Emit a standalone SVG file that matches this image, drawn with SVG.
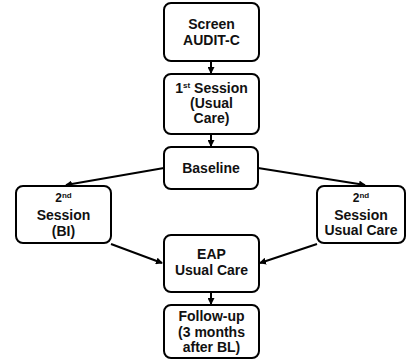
<svg xmlns="http://www.w3.org/2000/svg" width="407" height="361" viewBox="0 0 407 361">
<style>
.box{fill:#fff;stroke:#000;stroke-width:2;}
text{font-family:"Liberation Sans",Arial,sans-serif;font-weight:bold;font-size:14px;fill:#111;text-anchor:middle;}
.sm{font-size:12px;}
.sup{font-size:8px;}
.conn{stroke:#000;stroke-width:2;fill:none;marker-end:url(#ah);}
</style>
<defs>
<marker id="ah" markerWidth="7" markerHeight="7" refX="6" refY="3.5" orient="auto" markerUnits="userSpaceOnUse">
<path d="M0,0 L7,3.5 L0,7 Z" fill="#000"/>
</marker>
</defs>
<g id="connectors">
<line class="conn" x1="211" y1="62" x2="211" y2="73"/>
<line class="conn" x1="211" y1="135" x2="211" y2="146"/>
<line class="conn" x1="164" y1="168" x2="66" y2="185"/>
<line class="conn" x1="258" y1="168" x2="365" y2="185"/>
<line class="conn" x1="111" y1="244" x2="162" y2="263"/>
<line class="conn" x1="317" y1="244" x2="260" y2="263"/>
<line class="conn" x1="211" y1="293" x2="211" y2="304"/>
</g>
<g id="screen">
<rect class="box" x="164" y="3" width="95" height="58" rx="7"/>
<text x="211.5" y="29">Screen</text>
<text x="211.5" y="45">AUDIT-C</text>
</g>
<g id="session1">
<rect class="box" x="164" y="74" width="95" height="60" rx="7"/>
<text x="211.5" y="93">1<tspan class="sup" dy="-5">st</tspan><tspan dy="5"> Session</tspan></text>
<text x="211.5" y="108">(Usual</text>
<text x="211.5" y="123">Care)</text>
</g>
<g id="baseline">
<rect class="box" x="164" y="147" width="94" height="42" rx="7"/>
<text x="211" y="173">Baseline</text>
</g>
<g id="session2bi">
<rect class="box" x="16" y="186" width="95" height="57" rx="7"/>
<text class="sm" x="63.5" y="202">2<tspan class="sup" dy="-4">nd</tspan></text>
<text x="63.5" y="220">Session</text>
<text x="63.5" y="236">(BI)</text>
</g>
<g id="session2uc">
<rect class="box" x="317" y="186" width="88" height="57" rx="7"/>
<text class="sm" x="361" y="202">2<tspan class="sup" dy="-4">nd</tspan></text>
<text x="361" y="220">Session</text>
<text x="361" y="235">Usual Care</text>
</g>
<g id="eap">
<rect class="box" x="164" y="235" width="95" height="57" rx="7"/>
<text x="211.5" y="259">EAP</text>
<text x="211.5" y="275">Usual Care</text>
</g>
<g id="followup">
<rect class="box" x="164" y="305" width="95" height="53" rx="7"/>
<text x="211.5" y="321">Follow-up</text>
<text x="211.5" y="337">(3 months</text>
<text x="211.5" y="352">after BL)</text>
</g>
</svg>
